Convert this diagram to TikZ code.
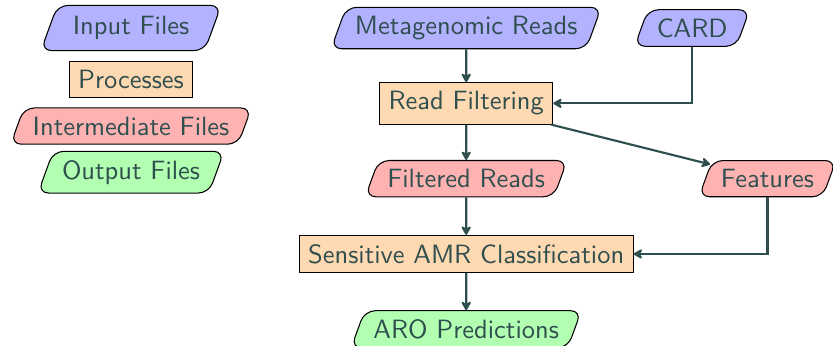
\documentclass[tikz,border=0pt]{standalone}
\usetikzlibrary{shapes.geometric,positioning,arrows.meta}
\definecolor{slate}{HTML}{2F4F4F}
\begin{document}
\begin{tikzpicture}[font=\sffamily, text=slate,
    io/.style={trapezium, trapezium left angle=70, trapezium right angle=110, draw, rounded corners=4pt},
    infile/.style={io, fill=blue!30},
    proc/.style={rectangle, draw, fill=orange!30},
    midfile/.style={io, fill=red!30},
    outfile/.style={io, fill=green!30},
    flow/.style={-{Stealth[length=4pt,width=4.5pt,inset=1.2pt,round]}, thick, draw=slate}]
    \useasboundingbox (-6.19,0.372) rectangle (4.87,-4.22);
    % legend
    \node[infile, minimum width=2.4cm] (leg in) at (-4.45,0) {Input Files};
    \node[proc, below=0.13cm of leg in] (leg proc) {Processes};
    \node[midfile, below=0.12cm of leg proc] (leg mid) {Intermediate Files};
    \node[outfile, minimum width=2.3cm, below=0.08cm of leg mid] (leg out) {Output Files};
    % pipeline
    \node[infile] (reads) at (0,0) {Metagenomic Reads};
    \node[infile] (card) at (3,0) {CARD};
    \node[proc] (filter) at (0,-1) {Read Filtering};
    \node[midfile] (filtered) at (0,-2) {Filtered Reads};
    \node[midfile] (features) at (4,-2) {Features};
    \node[proc] (classify) at (0,-3) {Sensitive AMR Classification};
    \node[outfile] (aro) at (0,-4) {ARO Predictions};
    \draw[flow] (reads) -- (filter);
    \draw[flow] (card) |- (filter);
    \draw[flow] (filter) -- (filtered);
    \draw[flow] (filter) -- (features);
    \draw[flow] (filtered) -- (classify);
    \draw[flow] (features) |- (classify);
    \draw[flow] (classify) -- (aro);
\end{tikzpicture}
\end{document}
